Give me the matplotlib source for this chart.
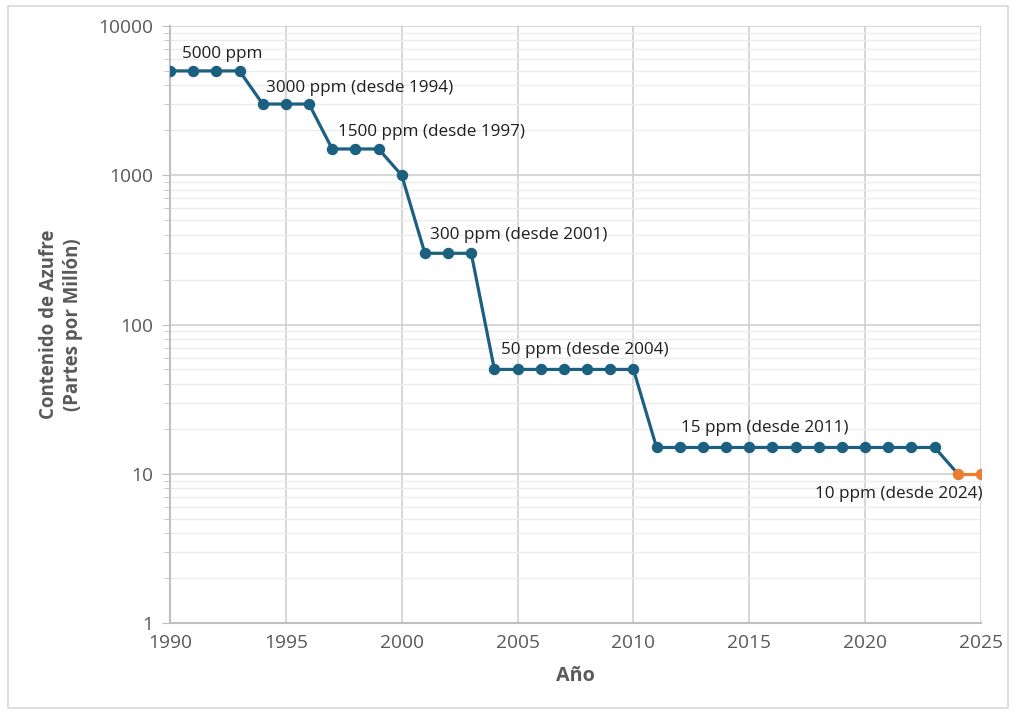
import numpy as np
import matplotlib.pyplot as plt
from matplotlib.ticker import LogLocator, NullFormatter, FixedLocator
from matplotlib.patches import Rectangle

plt.rcParams['font.family'] = ['Open Sans', 'DejaVu Sans']

#data
years_blue = [1990, 1991, 1992, 1993, 1994, 1995, 1996, 1997, 1998, 1999,
              2000, 2001, 2002, 2003, 2004, 2005, 2006, 2007, 2008, 2009,
              2010, 2011, 2012, 2013, 2014, 2015, 2016, 2017, 2018, 2019,
              2020, 2021, 2022, 2023]
ppm_blue = [5000, 5000, 5000, 5000, 3000, 3000, 3000, 1500, 1500, 1500,
            1000, 300, 300, 300, 50, 50, 50, 50, 50, 50,
            50, 15, 15, 15, 15, 15, 15, 15, 15, 15,
            15, 15, 15, 15]
years_orange = [2024, 2025]
ppm_orange = [10, 10]

#labels: (text, anchor year, anchor value, offset px, ha)
labels = [
    ("5000 ppm", 1990, 5000, (12, 17), "left"),
    ("3000 ppm (desde 1994)", 1994, 3000, (3, 16), "left"),
    ("1500 ppm (desde 1997)", 1997, 1500, (6, 17), "left"),
    ("300 ppm (desde 2001)", 2001, 300, (5, 18), "left"),
    ("50 ppm (desde 2004)", 2004, 50, (7, 19), "left"),
    ("15 ppm (desde 2011)", 2011, 15, (24, 19), "left"),
    ("10 ppm (desde 2024)", 2025, 10, (2, -20), "right"),
]

blue = "#1b6080"
orange = "#ed7d31"
gray = "#595959"

fig = plt.figure(figsize=(10.16, 7.12), dpi=100)
ax = fig.add_axes([170/1016, 1 - 623/712, 811/1016, 597/712])

ax.set_yscale("log")
ax.set_ylim(1, 10000)
ax.set_xlim(1990, 2025)

# line: blue part runs down to the 2024 point, orange from there
ax.plot(years_blue + [2024], ppm_blue + [10], color=blue, lw=2.3, zorder=3)
ax.plot(years_blue, ppm_blue, "o", color=blue, ms=7.2, zorder=4)
ax.plot(years_orange, ppm_orange, "-o", color=orange, lw=2.3, ms=7.2, zorder=4)

for txt, x, y, off, ha in labels:
    ax.annotate(txt, (x, y), xytext=off, textcoords="offset pixels",
                ha=ha, va="center", fontsize=12.3, color="#1f1f1f")

#grid
ax.xaxis.set_major_locator(FixedLocator(np.arange(1990, 2026, 5)))
ax.yaxis.set_minor_locator(LogLocator(base=10, subs=np.arange(2, 10), numticks=20))
ax.yaxis.set_minor_formatter(NullFormatter())
ax.set_yticks([1, 10, 100, 1000, 10000])
ax.set_yticklabels(["1", "10", "100", "1000", "10000"])
ax.grid(True, which="major", color="#d0d0d0", lw=1.2)
ax.grid(True, which="minor", axis="y", color="#ececec", lw=1.0)
ax.set_axisbelow(True)

for s in ["top", "right"]:
    ax.spines[s].set_visible(False)
for s in ["left", "bottom"]:
    ax.spines[s].set_color("#bfbfbf")
    ax.spines[s].set_linewidth(1.5)

ax.tick_params(axis="x", length=0, pad=8, labelsize=13.8, labelcolor=gray)
ax.tick_params(axis="y", which="major", length=6, color="#bfbfbf", pad=6,
               labelsize=13.8, labelcolor=gray)
ax.tick_params(axis="y", which="minor", length=4, color="#bfbfbf")

ax.set_xlabel("Año", fontsize=14.2, fontweight="bold", color=gray, labelpad=10)
ax.set_ylabel("Contenido de Azufre\n(Partes por Millón)", fontsize=13.4,
              fontweight="bold", color=gray, labelpad=11, linespacing=1.3)

fig.patches.append(Rectangle((8/1016, 4/712), 1000/1016, 702/712,
                             transform=fig.transFigure, fill=False,
                             edgecolor="#d9d9d9", lw=1.2))

plt.savefig("out.png", dpi=100)
